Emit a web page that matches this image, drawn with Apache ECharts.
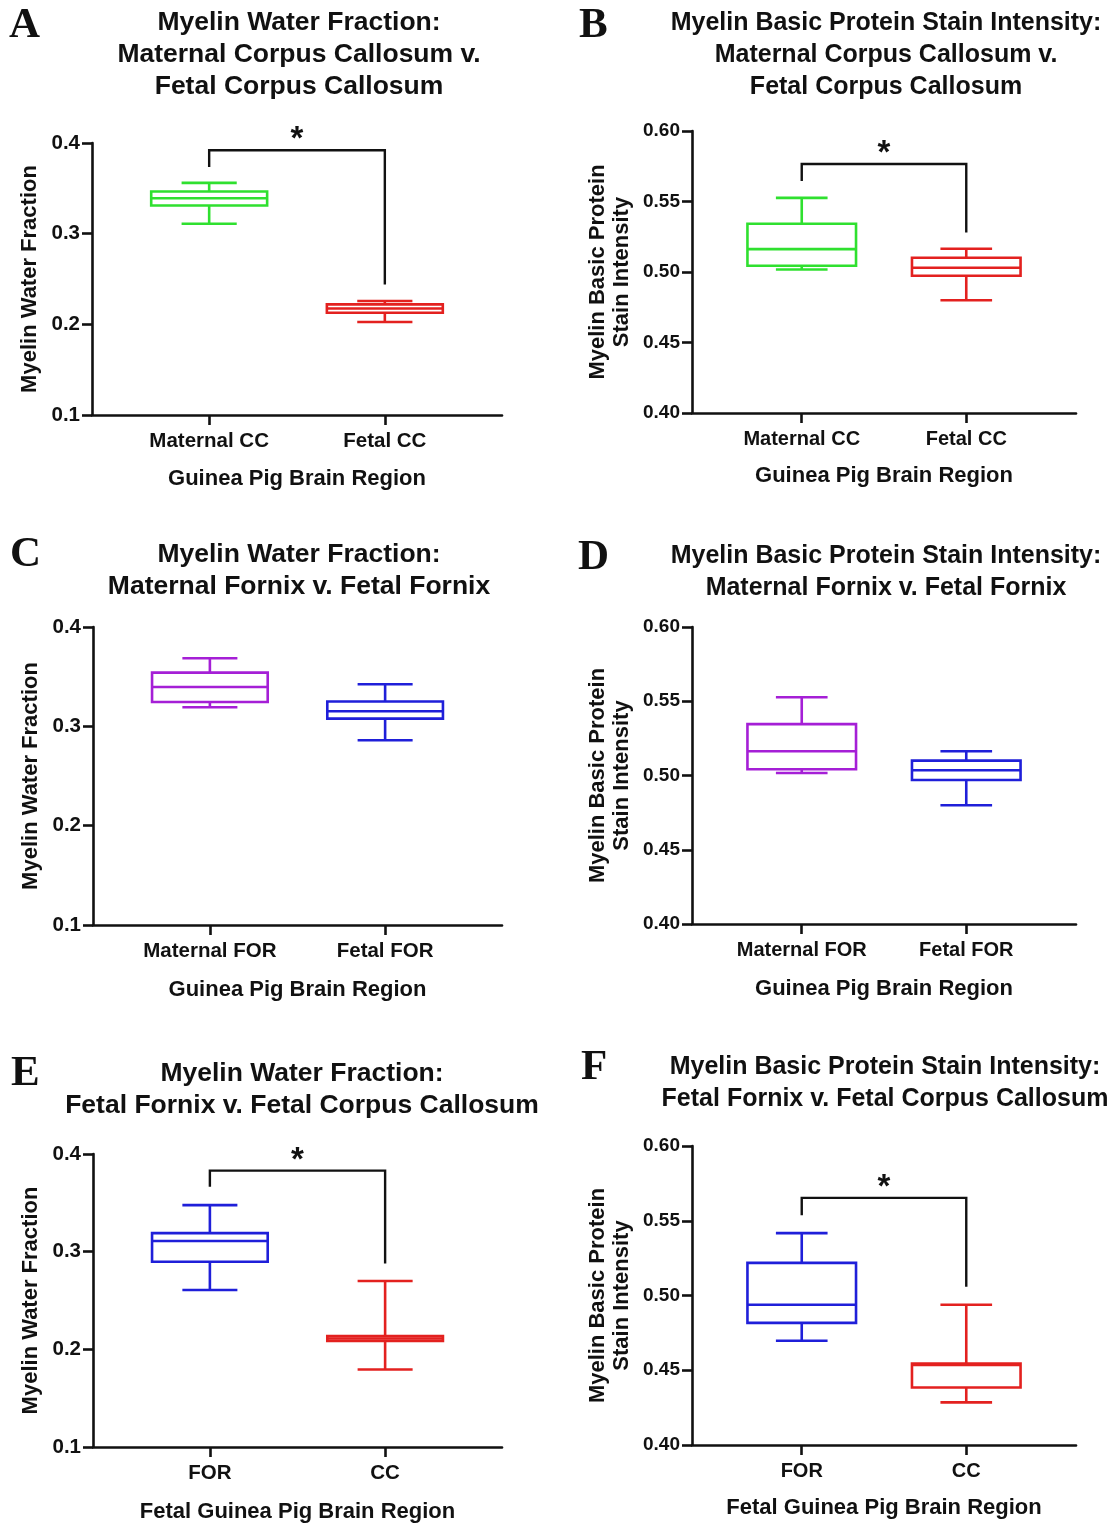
<!DOCTYPE html>
<html><head><meta charset="utf-8">
<script src="https://cdn.jsdelivr.net/npm/echarts@6/dist/echarts.min.js"></script>
<style>html,body{margin:0;padding:0;background:#fff}#c{width:1112px;height:1527px}</style>
</head><body><div id="c"></div>
<script>
// ---------- DATA (box = [min, q1, median, q3, max]) ----------
const catsCC = ['Maternal CC', 'Fetal CC'];
const catsFOR = ['Maternal FOR', 'Fetal FOR'];
const catsFetal = ['FOR', 'CC'];

const aMaternalCC = [0.311, 0.331, 0.339, 0.3465, 0.356];
const aFetalCC    = [0.2025, 0.2128, 0.2175, 0.222, 0.2257];
const aBracket    = [0.392, 0.3736, 0.244];   // [top, left end, right end]

const bMaternalCC = [0.5018, 0.5044, 0.5162, 0.5342, 0.5526];
const bFetalCC    = [0.480, 0.4973, 0.503, 0.5101, 0.5165];
const bBracket    = [0.5766, 0.5645, 0.528];

const cMaternalFOR = [0.3192, 0.3245, 0.3396, 0.3541, 0.3685];
const cFetalFOR    = [0.286, 0.3078, 0.3152, 0.325, 0.3424];

const dMaternalFOR = [0.5017, 0.5042, 0.5163, 0.5346, 0.5527];
const dFetalFOR    = [0.480, 0.497, 0.5035, 0.510, 0.5163];

const eFetalFOR = [0.2607, 0.2897, 0.3109, 0.319, 0.3477];
const eFetalCC  = [0.1794, 0.2087, 0.2111, 0.2135, 0.2699];
const eBracket  = [0.383, 0.3665, 0.288];

const fFetalFOR = [0.4697, 0.4817, 0.4938, 0.5218, 0.5417];
const fFetalCC  = [0.4285, 0.4385, 0.4535, 0.4545, 0.4938];
const fBracket  = [0.5653, 0.5537, 0.5058];

const mwfTicks = [0.1, 0.4, 0.1];     // min, max, interval
const mbpTicks = [0.40, 0.60, 0.05];

// ---------- STYLE ----------
const GREEN = '#2fe02f', RED = '#e3211f', PURPLE = '#a51fd6', BLUE = '#1f1fd9';
const SANS = '"Liberation Sans", Arial, sans-serif';
const SERIF = '"Liberation Serif", "Times New Roman", serif';
const INK = '#111';

const panels = [
  {letter:'A', lx:9, ly:4, title:'Myelin Water Fraction:\nMaternal Corpus Callosum v.\nFetal Corpus Callosum', tx:299, ty:7, tfs:26.5,
   cats:catsCC, boxes:[aMaternalCC, aFetalCC], colors:[GREEN, RED], bracket:aBracket, ticks:mwfTicks, dec:1, yfs:20.5, xfs:20.5,
   yName:'Myelin Water Fraction', xName:'Guinea Pig Brain Region', grid:{left:92, top:143, width:410, height:272}, yGap:50, xGap:53},
  {letter:'B', lx:579, ly:4, title:'Myelin Basic Protein Stain Intensity:\nMaternal Corpus Callosum v.\nFetal Corpus Callosum', tx:886, ty:7, tfs:25,
   cats:catsCC, boxes:[bMaternalCC, bFetalCC], colors:[GREEN, RED], bracket:bBracket, ticks:mbpTicks, dec:2, yfs:19, xfs:20,
   yName:'Myelin Basic Protein\nStain Intensity', xName:'Guinea Pig Brain Region', grid:{left:692, top:131, width:384, height:282}, yGap:58, xGap:52},
  {letter:'C', lx:10, ly:533, title:'Myelin Water Fraction:\nMaternal Fornix v. Fetal Fornix', tx:299, ty:539, tfs:26.5,
   cats:catsFOR, boxes:[cMaternalFOR, cFetalFOR], colors:[PURPLE, BLUE], bracket:null, ticks:mwfTicks, dec:1, yfs:20.5, xfs:20.5,
   yName:'Myelin Water Fraction', xName:'Guinea Pig Brain Region', grid:{left:93, top:627, width:409, height:298}, yGap:50, xGap:54},
  {letter:'D', lx:578, ly:536, title:'Myelin Basic Protein Stain Intensity:\nMaternal Fornix v. Fetal Fornix', tx:886, ty:540, tfs:25,
   cats:catsFOR, boxes:[dMaternalFOR, dFetalFOR], colors:[PURPLE, BLUE], bracket:null, ticks:mbpTicks, dec:2, yfs:19, xfs:20,
   yName:'Myelin Basic Protein\nStain Intensity', xName:'Guinea Pig Brain Region', grid:{left:692, top:627, width:384, height:297}, yGap:58, xGap:54},
  {letter:'E', lx:11, ly:1052, title:'Myelin Water Fraction:\nFetal Fornix v. Fetal Corpus Callosum', tx:302, ty:1058, tfs:26.5,
   cats:catsFetal, boxes:[eFetalFOR, eFetalCC], colors:[BLUE, RED], bracket:eBracket, ticks:mwfTicks, dec:1, yfs:20.5, xfs:20.5,
   yName:'Myelin Water Fraction', xName:'Fetal Guinea Pig Brain Region', grid:{left:93, top:1154, width:409, height:293}, yGap:50, xGap:54},
  {letter:'F', lx:581, ly:1046, title:'Myelin Basic Protein Stain Intensity:\nFetal Fornix v. Fetal Corpus Callosum', tx:885, ty:1051, tfs:25,
   cats:catsFetal, boxes:[fFetalFOR, fFetalCC], colors:[BLUE, RED], bracket:fBracket, ticks:mbpTicks, dec:2, yfs:19, xfs:20,
   yName:'Myelin Basic Protein\nStain Intensity', xName:'Fetal Guinea Pig Brain Region', grid:{left:692, top:1146, width:384, height:299}, yGap:58, xGap:52}
];

const BOX_HALF = 0.33, CAP_HALF = 0.157, LW = 2.6;

function boxRenderer(colors) {
  return function (params, api) {
    const x = api.value(0);
    const mn = api.value(1), q1 = api.value(2), md = api.value(3), q3 = api.value(4), mx = api.value(5);
    const c = colors[params.dataIndex];
    const xl = api.coord([x - BOX_HALF, md])[0], xr = api.coord([x + BOX_HALF, md])[0];
    const cl = api.coord([x - CAP_HALF, md])[0], cr = api.coord([x + CAP_HALF, md])[0];
    const cx = api.coord([x, md])[0];
    const Y = v => api.coord([x, v])[1];
    const yMin = Y(mn), yQ1 = Y(q1), yMd = Y(md), yQ3 = Y(q3), yMax = Y(mx);
    const st = {stroke: c, fill: 'none', lineWidth: LW};
    return {type: 'group', children: [
      {type: 'rect', shape: {x: xl, y: yQ3, width: xr - xl, height: yQ1 - yQ3}, style: st},
      {type: 'line', shape: {x1: xl, y1: yMd, x2: xr, y2: yMd}, style: st},
      {type: 'line', shape: {x1: cx, y1: yQ3, x2: cx, y2: yMax}, style: st},
      {type: 'line', shape: {x1: cx, y1: yQ1, x2: cx, y2: yMin}, style: st},
      {type: 'line', shape: {x1: cl, y1: yMax, x2: cr, y2: yMax}, style: st},
      {type: 'line', shape: {x1: cl, y1: yMin, x2: cr, y2: yMin}, style: st}
    ]};
  };
}

function bracketRenderer(params, api) {
  const x0 = api.value(0), x1 = api.value(1);
  const top = api.coord([x0, api.value(2)]);
  const lEnd = api.coord([x0, api.value(3)]);
  const rTop = api.coord([x1, api.value(2)]);
  const rEnd = api.coord([x1, api.value(4)]);
  const mid = api.coord([(x0 + x1) / 2, api.value(2)]);
  const st = {stroke: INK, fill: 'none', lineWidth: 2.4};
  return {type: 'group', children: [
    {type: 'polyline', shape: {points: [[lEnd[0], lEnd[1]], [top[0], top[1]], [rTop[0], rTop[1]], [rEnd[0], rEnd[1]]]}, style: st},
    {type: 'text', x: mid[0], y: mid[1] - 10, style: {text: '*', fill: INK, font: 'bold 33px ' + SANS, align: 'center', verticalAlign: 'middle'}}
  ]};
}

const option = {
  backgroundColor: '#fff',
  animation: false,
  grid: [], xAxis: [], yAxis: [], series: [], graphic: []
};

panels.forEach((p, i) => {
  option.grid.push(Object.assign({containLabel: false}, p.grid));
  option.xAxis.push({
    type: 'value', gridIndex: i, min: -0.667, max: 1.667,
    axisLine: {show: true, onZero: false, lineStyle: {color: INK, width: 2.6}},
    axisTick: {show: true, customValues: [0, 1], length: 10, lineStyle: {color: INK, width: 2.6}},
    axisLabel: {customValues: [0, 1], formatter: v => p.cats[Math.round(v)], margin: 16,
      color: INK, fontFamily: SANS, fontWeight: 'bold', fontSize: p.xfs},
    splitLine: {show: false},
    name: p.xName, nameLocation: 'middle', nameGap: p.xGap,
    nameTextStyle: {color: INK, fontFamily: SANS, fontWeight: 'bold', fontSize: 22}
  });
  option.yAxis.push({
    type: 'value', gridIndex: i, min: p.ticks[0], max: p.ticks[1], interval: p.ticks[2],
    axisLine: {show: true, onZero: false, lineStyle: {color: INK, width: 2.6}},
    axisTick: {show: true, length: 10, lineStyle: {color: INK, width: 2.6}},
    axisLabel: {formatter: v => v.toFixed(p.dec), margin: 12, color: INK, fontFamily: SANS, fontWeight: 'bold', fontSize: p.yfs},
    splitLine: {show: false},
    name: p.yName, nameLocation: 'middle', nameGap: p.yGap, nameRotate: 90,
    nameTextStyle: {color: INK, fontFamily: SANS, fontWeight: 'bold', fontSize: 22, lineHeight: 24}
  });
  option.series.push({
    type: 'custom', xAxisIndex: i, yAxisIndex: i, clip: false,
    encode: {x: 0, y: [1, 2, 3, 4, 5]},
    data: p.boxes.map((b, k) => [k].concat(b)),
    renderItem: boxRenderer(p.colors)
  });
  if (p.bracket) {
    option.series.push({
      type: 'custom', xAxisIndex: i, yAxisIndex: i, clip: false,
      encode: {x: [0, 1], y: [2, 3, 4]},
      data: [[0, 1].concat(p.bracket)],
      renderItem: bracketRenderer
    });
  }
  option.graphic.push({
    type: 'text', x: p.tx, y: p.ty,
    style: {text: p.title, fill: INK, font: 'bold ' + p.tfs + 'px ' + SANS, lineHeight: 32, align: 'center', verticalAlign: 'top'}
  });
  option.graphic.push({
    type: 'text', x: p.lx, y: p.ly,
    style: {text: p.letter, fill: INK, font: 'bold 43px ' + SERIF, align: 'left', verticalAlign: 'top'}
  });
});

const chart = echarts.init(document.getElementById('c'), null, {renderer: 'canvas', width: 1112, height: 1527});
chart.setOption(option);
</script>
</body></html>
